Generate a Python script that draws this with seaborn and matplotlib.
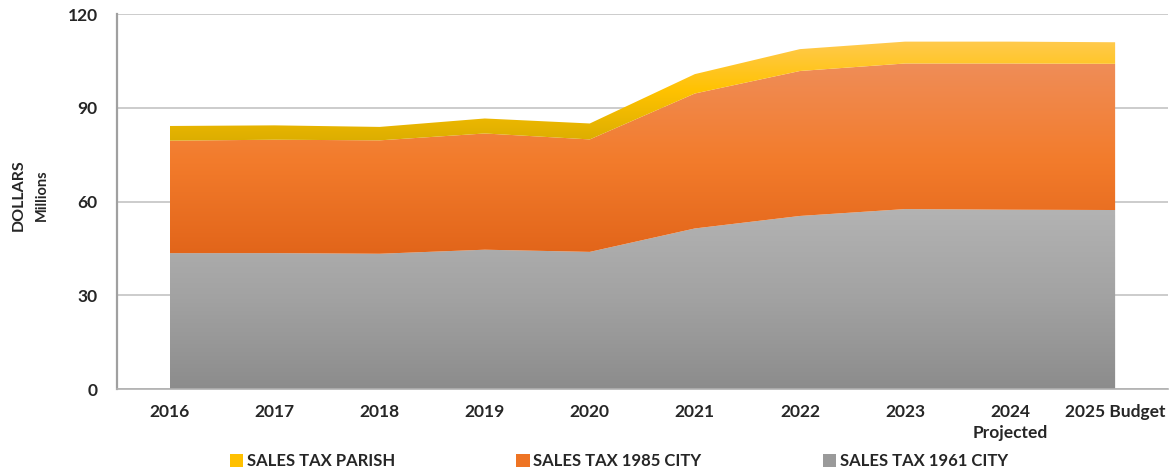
import numpy as np
import pandas as pd
import seaborn as sn
import matplotlib.pyplot as plt
from matplotlib.colors import LinearSegmentedColormap
from matplotlib.patches import Patch

# values in millions of dollars
years = ["2016", "2017", "2018", "2019", "2020", "2021", "2022", "2023",
         "2024\nProjected", "2025 Budget"]
tax_1961_city = [43.5, 43.5, 43.3, 44.6, 43.9, 51.4, 55.4, 57.6, 57.4, 57.3]
tax_1985_city = [36.0, 36.3, 36.3, 37.2, 36.0, 43.2, 46.4, 46.6, 46.8, 46.8]
tax_parish = [4.7, 4.6, 4.3, 4.8, 5.1, 6.2, 7.0, 7.0, 7.0, 6.9]

df = pd.DataFrame({
    "year": years,
    "SALES TAX 1961 CITY": tax_1961_city,
    "SALES TAX 1985 CITY": tax_1985_city,
    "SALES TAX PARISH": tax_parish,
})

sn.set_style("white")
plt.rcParams["font.family"] = ["Lato", "DejaVu Sans"]
plt.rcParams["font.weight"] = "bold"

# gradients bottom -> top for each band
grads = {
    "SALES TAX 1961 CITY": ["#8c8c8c", "#a2a2a2", "#b3b3b3"],
    "SALES TAX 1985 CITY": ["#e2651a", "#f37c2c", "#ef8d58"],
    "SALES TAX PARISH": ["#dcae00", "#ffc200", "#ffca4e"],
}
solid = {
    "SALES TAX 1961 CITY": "#9a9a9a",
    "SALES TAX 1985 CITY": "#ee7424",
    "SALES TAX PARISH": "#ffc000",
}

fig = plt.figure(figsize=(11.70, 4.71), dpi=100)
ax = fig.add_axes([0.1, 0.174, 0.898, 0.796])

x = np.arange(len(years))
base = np.zeros(len(years))
for col in ["SALES TAX 1961 CITY", "SALES TAX 1985 CITY", "SALES TAX PARISH"]:
    top = base + df[col].values
    poly = ax.fill_between(x, base, top, color="none", lw=0, zorder=2)
    cmap = LinearSegmentedColormap.from_list(col, grads[col])
    lo, hi = base.min(), top.max()
    grad = np.linspace(0, 1, 256).reshape(-1, 1)
    im = ax.imshow(grad, cmap=cmap, origin="lower", aspect="auto",
                   extent=[x[0], x[-1], lo, hi], zorder=2)
    im.set_clip_path(poly.get_paths()[0], transform=ax.transData)
    base = top

ax.set_xlim(-0.5, len(years) - 0.5)
ax.set_ylim(0, 120)
ax.set_yticks([0, 30, 60, 90, 120])
ax.set_xticks(x)
ax.set_xticklabels(years, linespacing=1.35)
ax.set_xticks(np.arange(len(years) + 1) - 0.5, minor=True)
ax.tick_params(axis="x", which="major", length=0, pad=11, labelsize=12.5)
ax.tick_params(axis="x", which="minor", length=8, width=1, color="#b0b0b0")
ax.tick_params(axis="y", length=6, width=1, color="#a0a0a0", pad=8,
               labelsize=12.5)
for lab in ax.get_xticklabels() + ax.get_yticklabels():
    lab.set_fontweight("bold")
ax.grid(axis="y", color="#c4c4c4", lw=1.2, zorder=0)
ax.set_axisbelow(True)
for s in ["top", "right"]:
    ax.spines[s].set_visible(False)
ax.spines["left"].set_color("#a0a0a0")
ax.spines["left"].set_linewidth(1.6)
ax.spines["bottom"].set_color("#b0b0b0")
ax.spines["bottom"].set_linewidth(1.2)

fig.text(0.016, 0.586, "DOLLARS", rotation=90, ha="center", va="center",
         fontsize=11.5, fontweight="bold")
fig.text(0.036, 0.586, "Millions", rotation=90, ha="center", va="center",
         fontsize=10.5, fontweight="bold")

order = ["SALES TAX PARISH", "SALES TAX 1985 CITY", "SALES TAX 1961 CITY"]
handles = [Patch(facecolor=solid[c], edgecolor="none") for c in order]
fig.legend(handles, order, loc="center left", bbox_to_anchor=(0.1965, 0.021),
           ncol=3, frameon=False, handlelength=0.8, handleheight=0.8,
           handletextpad=0.2, columnspacing=7.3, fontsize=12,
           borderaxespad=0, borderpad=0)

plt.savefig("out.png", dpi=100)
